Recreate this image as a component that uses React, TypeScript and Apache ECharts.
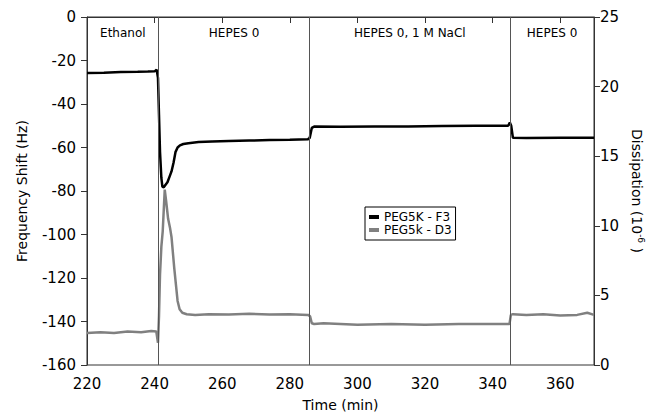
import React, { useEffect, useRef } from "react";
import * as echarts from "echarts";

const freqTime = [220, 225, 230, 235, 238, 240, 240.6, 241.0, 241.3, 241.6, 242.0, 242.3, 242.7, 243.3, 243.8, 244.4, 245.0, 245.6, 246.2, 246.8, 247.5, 248.5, 250, 253, 257, 262, 268, 274, 280, 285.4, 285.9, 286.5, 287.2, 295, 305, 315, 325, 335, 344.6, 345.1, 345.5, 346.0, 350, 360, 370];
const freqValues = [-25.8, -25.6, -25.3, -25.2, -25.1, -25.0, -24.2, -28, -45, -62, -74, -78, -78.3, -77, -76, -73.5, -71, -67, -62, -60, -59, -58.4, -58, -57.5, -57.2, -57, -56.8, -56.6, -56.4, -56.2, -55.5, -51, -50.4, -50.5, -50.3, -50.3, -50.1, -50, -50, -48.5, -50, -55.5, -55.6, -55.5, -55.5];

const dissTime = [220, 224, 228, 232, 236, 239, 240.5, 241.0, 241.3, 241.6, 242.0, 242.4, 243.0, 243.4, 244.0, 244.6, 245.0, 245.8, 246.3, 246.8, 247.4, 248.2, 249.5, 252, 256, 262, 268, 274, 280, 285.4, 286.0, 286.5, 287.2, 290, 300, 310, 320, 330, 340, 345.0, 345.4, 346.0, 350, 355, 360, 365, 368, 370];
const dissValues = [2.3, 2.35, 2.3, 2.4, 2.35, 2.45, 2.4, 1.6, 3.5, 6.5, 8.5, 9.6, 12.6, 11.8, 10.5, 9.8, 9.2, 7.0, 5.8, 4.6, 4.0, 3.75, 3.65, 3.6, 3.65, 3.62, 3.68, 3.63, 3.65, 3.6, 3.5, 3.0, 2.95, 3.0, 2.9, 2.95, 2.9, 2.95, 2.95, 2.95, 3.6, 3.65, 3.6, 3.65, 3.55, 3.6, 3.75, 3.6];

const phaseBounds = [220, 241.2, 285.8, 345.2, 370];
const phaseNames = ["Ethanol", "HEPES 0", "HEPES 0, 1 M NaCl", "HEPES 0"];

const seriesNames = ["PEG5K - F3", "PEG5k - D3"];

const FONT = "DejaVu Sans";

export default function App() {
  const ref = useRef<HTMLDivElement>(null);
  useEffect(() => {
    if (!ref.current) return;
    const chart = echarts.init(ref.current, null, { renderer: "svg" });
    const freqData = freqTime.map((t, i) => [t, freqValues[i]]);
    const dissData = dissTime.map((t, i) => [t, dissValues[i]]);
    const areas = phaseNames.map((n, i) => [
      { xAxis: phaseBounds[i], name: n },
      { xAxis: phaseBounds[i + 1] },
    ]);
    const axisCommon = {
      axisLine: { show: true, lineStyle: { color: "#333", width: 1 } },
      axisTick: { show: true, inside: false, length: 6, lineStyle: { color: "#333" } },
      axisLabel: { color: "#000", fontSize: 15, fontFamily: FONT },
      splitLine: { show: false },
      nameTextStyle: { color: "#000", fontSize: 14, fontFamily: FONT },
    };
    chart.setOption({
      animation: false,
      backgroundColor: "#fff",
      textStyle: { fontFamily: FONT },
      grid: { left: 87, right: 58, top: 17, bottom: 52, containLabel: false, show: true, borderColor: "#333", borderWidth: 1 },
      legend: {
        show: true,
        data: seriesNames,
        orient: "vertical",
        left: 365,
        top: 207,
        backgroundColor: "#fff",
        borderColor: "#000",
        borderWidth: 1,
        borderRadius: 0,
        padding: [4, 4, 4, 4],
        itemGap: 1,
        itemWidth: 10,
        itemHeight: 4,
        icon: "rect",
        textStyle: { fontSize: 12, color: "#000", fontFamily: FONT },
      },
      xAxis: {
        type: "value",
        min: 220,
        max: 370,
        interval: 20,
        name: "Time (min)",
        nameLocation: "middle",
        nameGap: 33,
        ...axisCommon,
        axisLabel: { ...axisCommon.axisLabel, margin: 11, showMaxLabel: false },
      },
      yAxis: [
        {
          type: "value",
          min: -160,
          max: 0,
          interval: 20,
          name: "Frequency Shift (Hz)",
          nameLocation: "middle",
          nameGap: 58,
          ...axisCommon,
          axisLabel: { ...axisCommon.axisLabel, margin: 11 },
        },
        {
          type: "value",
          position: "right",
          min: 0,
          max: 25,
          interval: 5,
          name: "Dissipation (10{sup|-6} )",
          nameLocation: "middle",
          nameRotate: -90,
          nameGap: 34,
          ...axisCommon,
          nameTextStyle: {
            color: "#000",
            fontSize: 14,
            fontFamily: FONT,
            rich: {
              sup: { fontSize: 9, verticalAlign: "top", lineHeight: 16, fontFamily: FONT, color: "#000" },
            },
          },
          axisLabel: { ...axisCommon.axisLabel, margin: 6 },
        },
      ],
      series: [
        {
          name: seriesNames[0],
          type: "line",
          data: freqData,
          yAxisIndex: 0,
          showSymbol: false,
          symbol: "none",
          lineStyle: { color: "#000", width: 2.5 },
          itemStyle: { color: "#000" },
          z: 3,
          markLine: {
            silent: true,
            symbol: "none",
            label: { show: false },
            lineStyle: { color: "#555", width: 1, type: "solid" },
            data: phaseBounds.slice(1, 4).map((v) => ({ xAxis: v })),
          },
          markArea: {
            silent: true,
            itemStyle: { color: "rgba(0,0,0,0)" },
            label: {
              show: true,
              position: "insideTop",
              distance: 10,
              color: "#000",
              fontSize: 12,
              fontFamily: FONT,
            },
            data: areas,
          },
        },
        {
          name: seriesNames[1],
          type: "line",
          data: dissData,
          yAxisIndex: 1,
          showSymbol: false,
          symbol: "none",
          lineStyle: { color: "#808080", width: 2.5 },
          itemStyle: { color: "#808080" },
          z: 2,
        },
      ],
    });
    return () => chart.dispose();
  }, []);
  return <div ref={ref} style={{ width: 653, height: 417, position: "absolute", left: 0, top: 0 }} />;
}
